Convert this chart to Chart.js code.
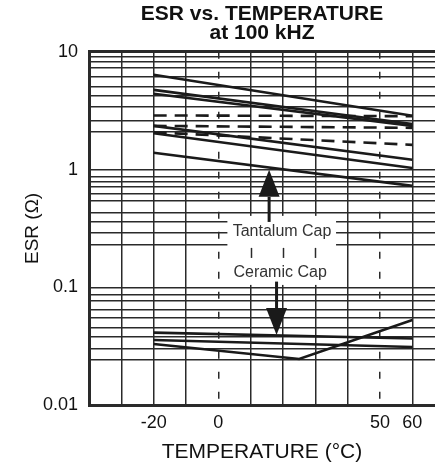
<!DOCTYPE html>
<html>
<head>
<meta charset="utf-8">
<script src="https://cdn.jsdelivr.net/npm/chart.js@4"></script>
<style>
  html, body { margin: 0; padding: 0; background: #fff; }
</style>
</head>
<body>
<canvas id="esrChart" width="435" height="473"></canvas>
<script>
// x axis (temperature, degC)
const xGridTemps = [-30, -20, -10, 0, 10, 20, 30, 40, 50, 60];
const xTickLabels = [-20, 0, 50, 60];
const dashedTemps = [0, 50];

// y axis (ESR, ohm) - grid lines as drawn on the original sheet
const yGridValues = [
    0.01, 0.024, 0.03, 0.038, 0.045, 0.055, 0.064, 0.077, 0.086,
    0.1, 0.23, 0.29, 0.36, 0.43, 0.54, 0.62, 0.71, 0.79, 0.86,
    1, 2.1, 2.6, 3.4, 4.2, 5, 6.1, 7.3, 8.3, 9, 10
];
const yTickLabels = ['0.01', '0.1', '1', '10'];

// tantalum caps, measured at -20 and 60 degC
const tantalumTemps = [-20, 60];
const tantalum1 = [6.38, 2.86];
const tantalum2 = [4.75, 2.44];
const tantalum3 = [4.40, 2.35];
const tantalum4 = [2.35, 1.21];
const tantalum5 = [2.03, 1.03];
const tantalum6 = [1.39, 0.726];
const tantalumDashed1 = [2.88, 2.84];
const tantalumDashed2 = [2.35, 2.26];
const tantalumDashed3 = [2.07, 1.62];

// ceramic caps
const ceramicTemps = [-20, 60];
const ceramic1 = [0.0412, 0.0367];
const ceramic2 = [0.0357, 0.0311];
const ceramicVTemps = [-20, 25, 60];
const ceramic3 = [0.0330, 0.0246, 0.0528];

const FONT = '"Liberation Sans", Arial, Helvetica, sans-serif';
const INK = '#1a1a1a';
const GRID = '#2a2a2a';

function series(temps, values, dashed) {
    return {
        data: temps.map((t, i) => ({ x: t, y: values[i] })),
        showLine: true,
        borderColor: INK,
        borderWidth: 2.6,
        borderDash: dashed ? [13, 8] : [],
        pointRadius: 0,
        fill: false,
        tension: 0
    };
}

// labels and arrows, with the white patch behind them
const capLabels = {
    id: 'capLabels',
    afterDatasetsDraw(chart) {
        const { ctx, scales: { x, y } } = chart;
        ctx.save();

        const bx1 = x.getPixelForValue(2.8), bx2 = x.getPixelForValue(36.4);
        const by1 = y.getPixelForValue(0.404), by2 = y.getPixelForValue(0.1047);
        ctx.fillStyle = '#fff';
        ctx.fillRect(bx1, by1, bx2 - bx1, by2 - by1);

        // bits of the vertical grid that show between the labels
        ctx.strokeStyle = GRID;
        ctx.lineWidth = 1.5;
        [10, 20, 30].forEach(t => {
            const px = Math.round(x.getPixelForValue(t)) + 0.5;
            ctx.beginPath();
            ctx.moveTo(px, y.getPixelForValue(0.216));
            ctx.lineTo(px, y.getPixelForValue(0.1775));
            ctx.stroke();
        });

        ctx.font = '16px ' + FONT;
        ctx.fillStyle = '#333';
        ctx.textAlign = 'center';
        ctx.textBaseline = 'middle';
        ctx.fillText('Tantalum Cap', x.getPixelForValue(19.7), y.getPixelForValue(0.298));
        ctx.fillText('Ceramic Cap', x.getPixelForValue(19.1), y.getPixelForValue(0.133));

        arrow(ctx, x.getPixelForValue(15.7), y.getPixelForValue(0.359),
              y.getPixelForValue(0.586), y.getPixelForValue(0.994));
        arrow(ctx, x.getPixelForValue(18), y.getPixelForValue(0.1117),
              y.getPixelForValue(0.0667), y.getPixelForValue(0.0394));
        ctx.restore();
    }
};

function arrow(ctx, px, fromY, baseY, tipY) {
    ctx.strokeStyle = INK;
    ctx.fillStyle = INK;
    ctx.lineWidth = 3;
    ctx.beginPath();
    ctx.moveTo(px, fromY);
    ctx.lineTo(px, baseY);
    ctx.stroke();
    ctx.beginPath();
    ctx.moveTo(px - 10.5, baseY);
    ctx.lineTo(px + 10.5, baseY);
    ctx.lineTo(px, tipY);
    ctx.closePath();
    ctx.fill();
}

const ctx = document.getElementById('esrChart').getContext('2d');
const esrChart = new Chart(ctx, {
    type: 'scatter',
    data: {
        datasets: [
            series(tantalumTemps, tantalum1),
            series(tantalumTemps, tantalum2),
            series(tantalumTemps, tantalum3),
            series(tantalumTemps, tantalum4),
            series(tantalumTemps, tantalum5),
            series(tantalumTemps, tantalum6),
            series(tantalumTemps, tantalumDashed1, true),
            series(tantalumTemps, tantalumDashed2, true),
            series(tantalumTemps, tantalumDashed3, true),
            series(ceramicTemps, ceramic1),
            series(ceramicTemps, ceramic2),
            series(ceramicVTemps, ceramic3)
        ]
    },
    options: {
        responsive: false,
        animation: false,
        layout: { padding: 0 },
        plugins: {
            legend: { display: false },
            tooltip: { enabled: false },
            title: {
                display: true,
                fullSize: false,
                text: ['ESR vs. TEMPERATURE', 'at 100 kHZ'],
                color: '#111',
                font: { family: FONT, size: 21, weight: 'bold', lineHeight: 0.9 },
                padding: { top: 5, bottom: 9 }
            }
        },
        scales: {
            x: {
                type: 'linear',
                min: -40,
                max: 67,
                afterBuildTicks: s => { s.ticks = xGridTemps.map(v => ({ value: v })); },
                afterFit: s => { s.height = 68; },
                ticks: {
                    autoSkip: false,
                    maxRotation: 0,
                    padding: 7,
                    color: '#111',
                    font: { family: FONT, size: 18 },
                    callback: v => xTickLabels.includes(v) ? String(v) : ''
                },
                grid: {
                    color: GRID,
                    lineWidth: 1.5,
                    drawTicks: false
                },
                border: {
                    color: GRID,
                    width: 3,
                    dash: c => (c.tick && dashedTemps.includes(c.tick.value)) ? [7, 13] : []
                },
                title: {
                    display: true,
                    text: 'TEMPERATURE (°C)',
                    color: '#111',
                    font: { family: FONT, size: 21 },
                    padding: { top: 0, bottom: 8 }
                }
            },
            y: {
                type: 'logarithmic',
                min: 0.01,
                max: 10,
                afterBuildTicks: s => { s.ticks = yGridValues.map(v => ({ value: v })); },
                afterFit: s => { s.width = 89; },
                ticks: {
                    autoSkip: false,
                    padding: 11,
                    color: '#111',
                    font: { family: FONT, size: 18 },
                    callback: v => yTickLabels.includes(String(v)) ? String(v) : ''
                },
                grid: {
                    color: GRID,
                    lineWidth: c => (c.tick && c.tick.value === 10) ? 3 : 1.5,
                    drawTicks: false
                },
                border: { color: GRID, width: 3 },
                title: {
                    display: true,
                    text: 'ESR (Ω)',
                    color: '#111',
                    font: { family: FONT, size: 19 },
                    padding: { top: 21, bottom: 0 }
                }
            }
        }
    },
    plugins: [capLabels]
});
</script>
</body>
</html>
